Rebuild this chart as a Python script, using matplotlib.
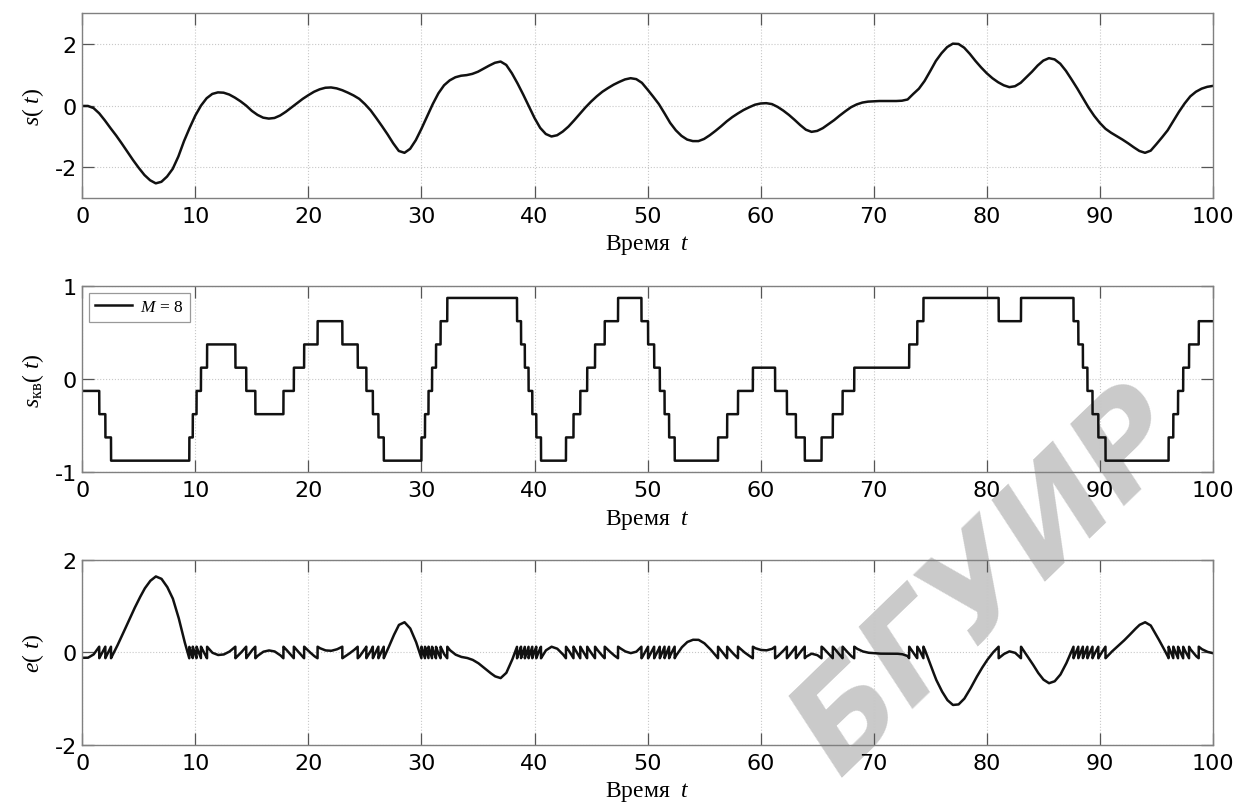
import numpy as np
import matplotlib
matplotlib.use("Agg")
import matplotlib.pyplot as plt

# signal s(t), every 0.5 time units
t = np.arange(0, 100.5, 0.5)
s = [-0.01, -0.01, -0.08, -0.25, -0.48, -0.73, -0.97, -1.23, -1.50, -1.77,    # 0 - 4.5
     -2.02, -2.25, -2.42, -2.52, -2.47, -2.30, -2.05, -1.65, -1.15, -0.72,    # 5 - 9.5
     -0.32, 0.00, 0.24, 0.38, 0.43, 0.42, 0.36, 0.26, 0.14, 0.00,             # 10 - 14.5
     -0.17, -0.30, -0.39, -0.42, -0.40, -0.32, -0.20, -0.06, 0.08, 0.22,      # 15 - 19.5
     0.34, 0.45, 0.53, 0.58, 0.59, 0.56, 0.50, 0.42, 0.33, 0.22,              # 20 - 24.5
     0.05, -0.15, -0.40, -0.66, -0.93, -1.22, -1.47, -1.53, -1.40, -1.12,     # 25 - 29.5
     -0.75, -0.35, 0.05, 0.40, 0.66, 0.82, 0.92, 0.97, 0.99, 1.03,            # 30 - 34.5
     1.10, 1.20, 1.30, 1.39, 1.43, 1.32, 1.05, 0.72, 0.36, -0.02,             # 35 - 39.5
     -0.40, -0.72, -0.92, -1.00, -0.96, -0.84, -0.68, -0.48, -0.27, -0.06,    # 40 - 44.5
     0.13, 0.30, 0.45, 0.57, 0.68, 0.77, 0.85, 0.89, 0.86, 0.74,              # 45 - 49.5
     0.52, 0.29, 0.05, -0.25, -0.56, -0.80, -0.98, -1.10, -1.15, -1.15,       # 50 - 54.5
     -1.08, -0.96, -0.82, -0.67, -0.51, -0.37, -0.25, -0.14, -0.05, 0.03,     # 55 - 59.5
     0.07, 0.08, 0.05, -0.04, -0.16, -0.30, -0.46, -0.63, -0.78, -0.85,       # 60 - 64.5
     -0.82, -0.73, -0.60, -0.47, -0.32, -0.18, -0.05, 0.04, 0.10, 0.13,       # 65 - 69.5
     0.14, 0.15, 0.15, 0.15, 0.15, 0.16, 0.20, 0.38, 0.55, 0.80,              # 70 - 74.5
     1.12, 1.45, 1.70, 1.90, 2.01, 2.00, 1.88, 1.68, 1.45, 1.24,              # 75 - 79.5
     1.05, 0.89, 0.76, 0.66, 0.60, 0.63, 0.74, 0.92, 1.10, 1.30,              # 80 - 84.5
     1.46, 1.54, 1.50, 1.36, 1.13, 0.85, 0.56, 0.25, -0.06, -0.33,            # 85 - 89.5
     -0.56, -0.75, -0.88, -0.99, -1.10, -1.22, -1.35, -1.47, -1.53, -1.46,    # 90 - 94.5
     -1.25, -1.03, -0.80, -0.50, -0.20, 0.07, 0.30, 0.45, 0.55, 0.61,         # 95 - 99.5
     0.64]                                                                    # 100

M = 8              # number of quantization levels
q_range = (-1, 1)  # quantizer range

xticks = [0, 10, 20, 30, 40, 50, 60, 70, 80, 90, 100]

plt.rcParams["axes.unicode_minus"] = False
plt.rcParams["mathtext.fontset"] = "custom"
plt.rcParams["mathtext.rm"] = "Liberation Serif"
plt.rcParams["mathtext.it"] = "Liberation Serif:italic"
plt.rcParams["mathtext.bf"] = "Liberation Serif:bold"

# quantize on a fine time grid
t_fine = np.linspace(0, 100, 20001)
s_fine = np.interp(t_fine, t, s)
step = (q_range[1] - q_range[0]) / M
s_kv = np.floor((s_fine - q_range[0]) / step) * step + q_range[0] + step / 2
s_kv = np.clip(s_kv, q_range[0] + step / 2, q_range[1] - step / 2)
err = s_kv - s_fine

fig = plt.figure(figsize=(12.37, 8.03), dpi=100)

# watermark behind everything
fig.text(0.800, 0.275, "БГУИР", rotation=44, fontsize=94, color="#cacaca",
         fontweight="bold", style="italic", family="DejaVu Sans",
         ha="center", va="center", rotation_mode="anchor", zorder=-5)

left, width = 0.0665, 0.914
ax1 = fig.add_axes([left, 0.752, width, 0.2304])
ax2 = fig.add_axes([left, 0.4106, width, 0.2316])
ax3 = fig.add_axes([left, 0.071, width, 0.2304])

lab_font = dict(family="Liberation Serif", fontsize=17)


def style_axes(ax, ylim, yticks, ylabel):
    ax.set_facecolor("none")
    ax.set_xlim(0, 100)
    ax.set_ylim(*ylim)
    ax.set_xticks(xticks)
    ax.set_yticks(yticks)
    ax.grid(True, linestyle=":", color="#c8c8c8", linewidth=0.8)
    ax.tick_params(direction="in", length=8.5, width=0.9, color="#555555",
                   top=True, right=True, labelsize=16)
    ax.tick_params(axis="x", pad=5.5)
    ax.tick_params(axis="y", pad=4)
    for sp in ax.spines.values():
        sp.set_color("#808080")
        sp.set_linewidth(1.0)
    ax.set_xlabel("Время  $t$", **lab_font)
    ax.xaxis.set_label_coords(0.5, -0.185)
    ax.set_ylabel(ylabel, **lab_font)
    ax.yaxis.set_label_coords(-0.032, 0.5)


ax1.plot(t, s, color="#111111", linewidth=1.8)
style_axes(ax1, (-3, 3), [-2, 0, 2], "$s$( $t$)")

ax2.plot(t_fine, s_kv, color="#111111", linewidth=1.8, label="$M$ = 8")
style_axes(ax2, (-1, 1), [-1, 0, 1], r"$s_{\mathrm{кв}}$( $t$)")
leg = ax2.legend(loc="upper left", fancybox=False, edgecolor="#808080",
                 prop={"family": "Liberation Serif", "size": 12.5},
                 handlelength=2.1, handletextpad=0.5, borderaxespad=0.4,
                 borderpad=0.35)
leg.get_frame().set_linewidth(0.9)

ax3.plot(t_fine, err, color="#111111", linewidth=1.8)
style_axes(ax3, (-2, 2), [-2, 0, 2], "$e$( $t$)")

fig.savefig("out.png", dpi=100)
